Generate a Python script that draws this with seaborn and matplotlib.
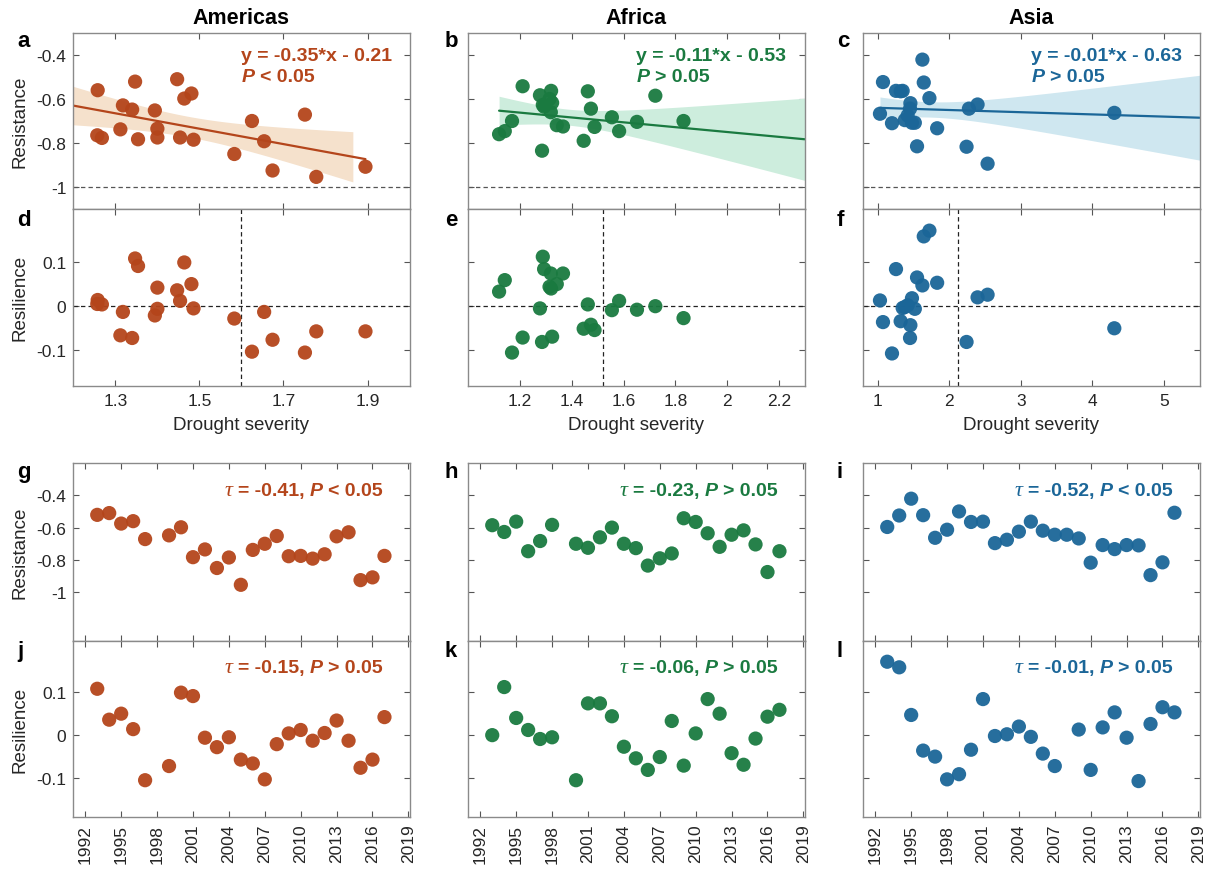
import numpy as np
import pandas as pd
import matplotlib
matplotlib.use("Agg")
import matplotlib.pyplot as plt
import seaborn as sns
from matplotlib.offsetbox import TextArea, HPacker, AnchoredOffsetbox

nan = np.nan

# ---------------- data ----------------
regions = ["Americas", "Africa", "Asia"]
years = list(range(1993, 2018))

am_resistance = [-0.521, -0.510, -0.575, -0.560, -0.671, nan, -0.648, -0.598, -0.783, -0.735,
                 -0.850, -0.785, -0.954, -0.738, -0.700, -0.652, -0.777, -0.775, -0.792, -0.765,
                 -0.654, -0.629, -0.925, -0.908, -0.775]
am_resilience = [0.108, 0.036, 0.050, 0.014, -0.105, nan, -0.072, 0.099, 0.091, -0.006,
                 -0.028, -0.005, -0.057, -0.066, -0.103, -0.021, 0.004, 0.012, -0.013, 0.005,
                 0.034, -0.013, -0.076, -0.057, 0.042]
am_severity = [1.347, 1.447, 1.481, 1.258, 1.751, nan, 1.340, 1.464, 1.354, 1.400,
               1.583, 1.486, 1.778, 1.312, 1.625, 1.394, 1.268, 1.454, 1.654, 1.257,
               nan, 1.318, 1.674, 1.895, 1.400]

af_resistance = [-0.585, -0.627, -0.563, -0.746, -0.683, -0.583, nan, -0.700, -0.725, -0.660,
                 -0.600, -0.700, -0.727, -0.835, -0.790, -0.760, -0.542, -0.565, -0.635, -0.719,
                 -0.644, -0.617, -0.704, -0.875, -0.746]
af_resilience = [0.000, 0.112, 0.040, 0.012, -0.009, -0.005, nan, -0.105, 0.074, 0.074,
                 0.044, -0.027, -0.054, -0.081, -0.051, 0.033, -0.071, 0.004, 0.084, 0.050,
                 -0.042, -0.069, -0.008, 0.043, 0.059]
af_severity = [1.723, 1.288, 1.320, 1.583, 1.555, 1.277, nan, 1.169, 1.366, 1.319,
               1.314, 1.832, 1.488, 1.285, 1.446, 1.119, 1.210, 1.462, 1.293, 1.342,
               1.474, 1.324, 1.652, nan, 1.141]

as_resistance = [-0.596, -0.525, -0.421, -0.523, -0.663, -0.613, -0.500, -0.565, -0.563, -0.696,
                 -0.675, -0.625, -0.563, -0.619, -0.644, -0.644, -0.667, -0.817, -0.708, -0.733,
                 -0.708, -0.710, -0.894, -0.815, -0.508]
as_resilience = [0.171, 0.158, 0.047, -0.036, -0.050, -0.103, -0.091, -0.034, 0.084, -0.002,
                 0.002, 0.020, -0.004, -0.043, -0.072, nan, 0.013, -0.081, 0.018, 0.053,
                 -0.006, -0.107, 0.026, 0.065, 0.053]
as_severity = [1.724, 1.645, 1.626, 1.075, 4.308, nan, nan, 1.322, 1.257, 1.380,
               1.420, 2.397, 1.350, 1.458, 1.453, 2.276, 1.033, 2.243, 1.480, 1.832,
               1.520, 1.201, 2.537, 1.551, nan]

severity_threshold = [1.60, 1.52, 2.13]

# reported linear fits (resistance vs drought severity)
fit_slope = [-0.35, -0.11, -0.01]
fit_intercept = [-0.21, -0.53, -0.63]

eq_labels = ["y = -0.35*x - 0.21", "y = -0.11*x - 0.53", "y = -0.01*x - 0.63"]
eq_p_labels = ["< 0.05", "> 0.05", "> 0.05"]
tau_res_labels = ["= -0.41,", "= -0.23,", "= -0.52,"]
tau_res_p = ["< 0.05", "> 0.05", "< 0.05"]
tau_resil_labels = ["= -0.15,", "= -0.06,", "= -0.01,"]
tau_resil_p = ["> 0.05", "> 0.05", "> 0.05"]

sev_ticks = [[1.3, 1.5, 1.7, 1.9], [1.2, 1.4, 1.6, 1.8, 2.0, 2.2], [1, 2, 3, 4, 5]]
sev_ticklabels = [["1.3", "1.5", "1.7", "1.9"], ["1.2", "1.4", "1.6", "1.8", "2", "2.2"],
                  ["1", "2", "3", "4", "5"]]
year_ticks = list(range(1992, 2020, 3))
res_ticks = [-1, -0.8, -0.6, -0.4]
res_ticklabels = ["-1", "-0.8", "-0.6", "-0.4"]
resil_ticks = [-0.1, 0, 0.1]
resil_ticklabels = ["-0.1", "0", "0.1"]

data = {
    "Americas": (am_resistance, am_resilience, am_severity),
    "Africa": (af_resistance, af_resilience, af_severity),
    "Asia": (as_resistance, as_resilience, as_severity),
}

# ---------------- style ----------------
sns.set_theme(style="white")
FONT = ["Liberation Sans", "DejaVu Sans"]
plt.rcParams["font.family"] = FONT
plt.rcParams["axes.unicode_minus"] = False

colors = ["#B4451B", "#1A7A40", "#1B6698"]
band_colors = ["#F5E1CC", "#CDEDDD", "#CFE7F0"]
band_scale = [1.0, 1.0, 0.72]
sev_xlim = [(1.2, 2.0), (1.0, 2.3), (0.8, 5.5)]
line_span = [(1.2, None), (None, 2.3), (None, 5.5)]
band_span = [(1.2, 1.865), (None, 2.3), (None, 5.5)]

W, H = 1213, 870
fig = plt.figure(figsize=(W / 100, H / 100), dpi=100)

col_left = [73.3, 468.3, 863.3]
col_w = 336.3
rows = [(34, 176), (210, 176.7), (464, 177.7), (641.7, 176)]


def px_axes(l, t, w, h):
    return fig.add_axes([l / W, 1 - (t + h) / H, w / W, h / H])


def style_ax(ax):
    for sp in ax.spines.values():
        sp.set_color("#8a8a8a")
        sp.set_linewidth(1.0)
    ax.tick_params(direction="in", top=True, right=True, bottom=True, left=True,
                   length=4, width=0.8, color="#555555", labelsize=12.5,
                   labelcolor="#262626", pad=5)
    ax.grid(False)


def rich(ax, parts, xy, loc, color, size=14):
    areas = []
    for txt, kw in parts:
        props = dict(color=color, fontsize=size, fontweight="bold", family=FONT)
        props.update(kw)
        areas.append(TextArea(txt, textprops=props))
    box = HPacker(children=areas, align="baseline", pad=0, sep=3.8)
    ab = AnchoredOffsetbox(loc=loc, child=box, pad=0, borderpad=0, frameon=False,
                           bbox_to_anchor=xy, bbox_transform=ax.transAxes)
    ax.add_artist(ab)


ITAL = dict(fontstyle="italic")
TAU = dict(family=["Liberation Serif", "DejaVu Serif"], fontstyle="italic", fontweight="normal",
           fontsize=16)

letters = [["a", "b", "c"], ["d", "e", "f"], ["g", "h", "i"], ["j", "k", "l"]]
letter_x = [17, 445, 837]
letter_y = [31, 210, 462, 641]

for ci, reg in enumerate(regions):
    resistance, resilience, severity = data[reg]
    c = colors[ci]
    df = pd.DataFrame({"year": years, "resistance": resistance,
                       "resilience": resilience, "severity": severity})
    L = col_left[ci]

    # ---- row 1: resistance vs severity ----
    ax = px_axes(L, rows[0][0], col_w, rows[0][1])
    style_ax(ax)
    ax.axhline(-1, color="#555555", lw=0.9, ls=(0, (3.5, 2.5)), zorder=1)
    sub = df.dropna(subset=["severity", "resistance"])
    x = sub["severity"].to_numpy()
    y = sub["resistance"].to_numpy()
    slope, icpt = fit_slope[ci], fit_intercept[ci]
    n = len(x)
    resid = y - (slope * x + icpt)
    s = np.sqrt(np.sum((resid - resid.mean()) ** 2) / (n - 2))
    sxx = np.sum((x - x.mean()) ** 2)
    b0 = band_span[ci][0] if band_span[ci][0] is not None else x.min()
    b1 = band_span[ci][1] if band_span[ci][1] is not None else x.max()
    xb = np.linspace(b0, b1, 200)
    se = band_scale[ci] * s * np.sqrt(1 / n + (xb - x.mean()) ** 2 / sxx)
    yb = slope * xb + icpt
    ax.fill_between(xb, yb - 2.08 * se, yb + 2.08 * se, color=band_colors[ci], lw=0, zorder=1)
    l0 = line_span[ci][0] if line_span[ci][0] is not None else x.min()
    l1 = line_span[ci][1] if line_span[ci][1] is not None else x.max()
    xl = np.array([l0, l1])
    sns.lineplot(x=xl, y=slope * xl + icpt, ax=ax, color=c, lw=1.6, zorder=2)
    sns.scatterplot(data=sub, x="severity", y="resistance", ax=ax, color=c, s=105,
                    edgecolor="none", alpha=0.95, zorder=3, legend=False)
    ax.set_xlim(*sev_xlim[ci])
    ax.set_ylim(-1.1, -0.3)
    ax.set_xticks(sev_ticks[ci])
    ax.set_xticklabels([])
    ax.set_yticks(res_ticks)
    ax.set_yticklabels(res_ticklabels if ci == 0 else [])
    ax.set_xlabel("")
    ax.set_ylabel("Resistance" if ci == 0 else "", fontsize=13.5, color="#262626", labelpad=6)
    rich(ax, [(eq_labels[ci], {})], (0.5, 0.87), "center left", c)
    rich(ax, [("P", ITAL), (eq_p_labels[ci], {})], (0.5, 0.752), "center left", c)

    # ---- row 2: resilience vs severity ----
    ax = px_axes(L, rows[1][0], col_w, rows[1][1])
    style_ax(ax)
    ax.axhline(0, color="#222222", lw=0.9, ls=(0, (3.5, 2.5)), zorder=1)
    ax.axvline(severity_threshold[ci], color="#222222", lw=0.9, ls=(0, (3.5, 2.5)), zorder=1)
    sns.scatterplot(data=df, x="severity", y="resilience", ax=ax, color=c, s=105,
                    edgecolor="none", alpha=0.95, zorder=3, legend=False)
    ax.set_xlim(*sev_xlim[ci])
    ax.set_ylim(-0.18, 0.22)
    ax.set_xticks(sev_ticks[ci])
    ax.set_xticklabels(sev_ticklabels[ci])
    ax.set_yticks(resil_ticks)
    ax.set_yticklabels(resil_ticklabels if ci == 0 else [])
    ax.set_xlabel("Drought severity", fontsize=13.5, color="#262626", labelpad=6)
    ax.set_ylabel("Resilience" if ci == 0 else "", fontsize=13.5, color="#262626", labelpad=6)

    # ---- row 3: resistance time series ----
    ax = px_axes(L, rows[2][0], col_w, rows[2][1])
    style_ax(ax)
    sns.scatterplot(data=df, x="year", y="resistance", ax=ax, color=c, s=105,
                    edgecolor="none", alpha=0.95, zorder=3, legend=False)
    ax.set_xlim(1991, 2019.1)
    ax.set_ylim(-1.3, -0.2)
    ax.set_xticks(year_ticks)
    ax.set_xticklabels([])
    ax.set_yticks(res_ticks)
    ax.set_yticklabels(res_ticklabels if ci == 0 else [])
    ax.set_xlabel("")
    ax.set_ylabel("Resistance" if ci == 0 else "", fontsize=13.5, color="#262626", labelpad=6)
    rich(ax, [("\u03c4", TAU), (tau_res_labels[ci], {}), ("P", ITAL), (tau_res_p[ci], {})],
         (0.92, 0.845), "center right", c)

    # ---- row 4: resilience time series ----
    ax = px_axes(L, rows[3][0], col_w, rows[3][1])
    style_ax(ax)
    sns.scatterplot(data=df, x="year", y="resilience", ax=ax, color=c, s=105,
                    edgecolor="none", alpha=0.95, zorder=3, legend=False)
    ax.set_xlim(1991, 2019.1)
    ax.set_ylim(-0.19, 0.22)
    ax.set_xticks(year_ticks)
    ax.set_xticklabels([str(t) for t in year_ticks], rotation=90)
    ax.set_yticks(resil_ticks)
    ax.set_yticklabels(resil_ticklabels if ci == 0 else [])
    ax.set_xlabel("")
    ax.set_ylabel("Resilience" if ci == 0 else "", fontsize=13.5, color="#262626", labelpad=6)
    rich(ax, [("\u03c4", TAU), (tau_resil_labels[ci], {}), ("P", ITAL), (tau_resil_p[ci], {})],
         (0.92, 0.845), "center right", c)

    # titles & letters
    fig.text((L + col_w / 2) / W, 1 - 18 / H, reg, ha="center", va="center",
             fontsize=15.5, fontweight="bold", color="black")
    for ri in range(4):
        fig.text(letter_x[ci] / W, 1 - letter_y[ri] / H, letters[ri][ci], ha="left", va="top",
                 fontsize=16, fontweight="bold", color="black")

fig.savefig("out.png", dpi=100)
